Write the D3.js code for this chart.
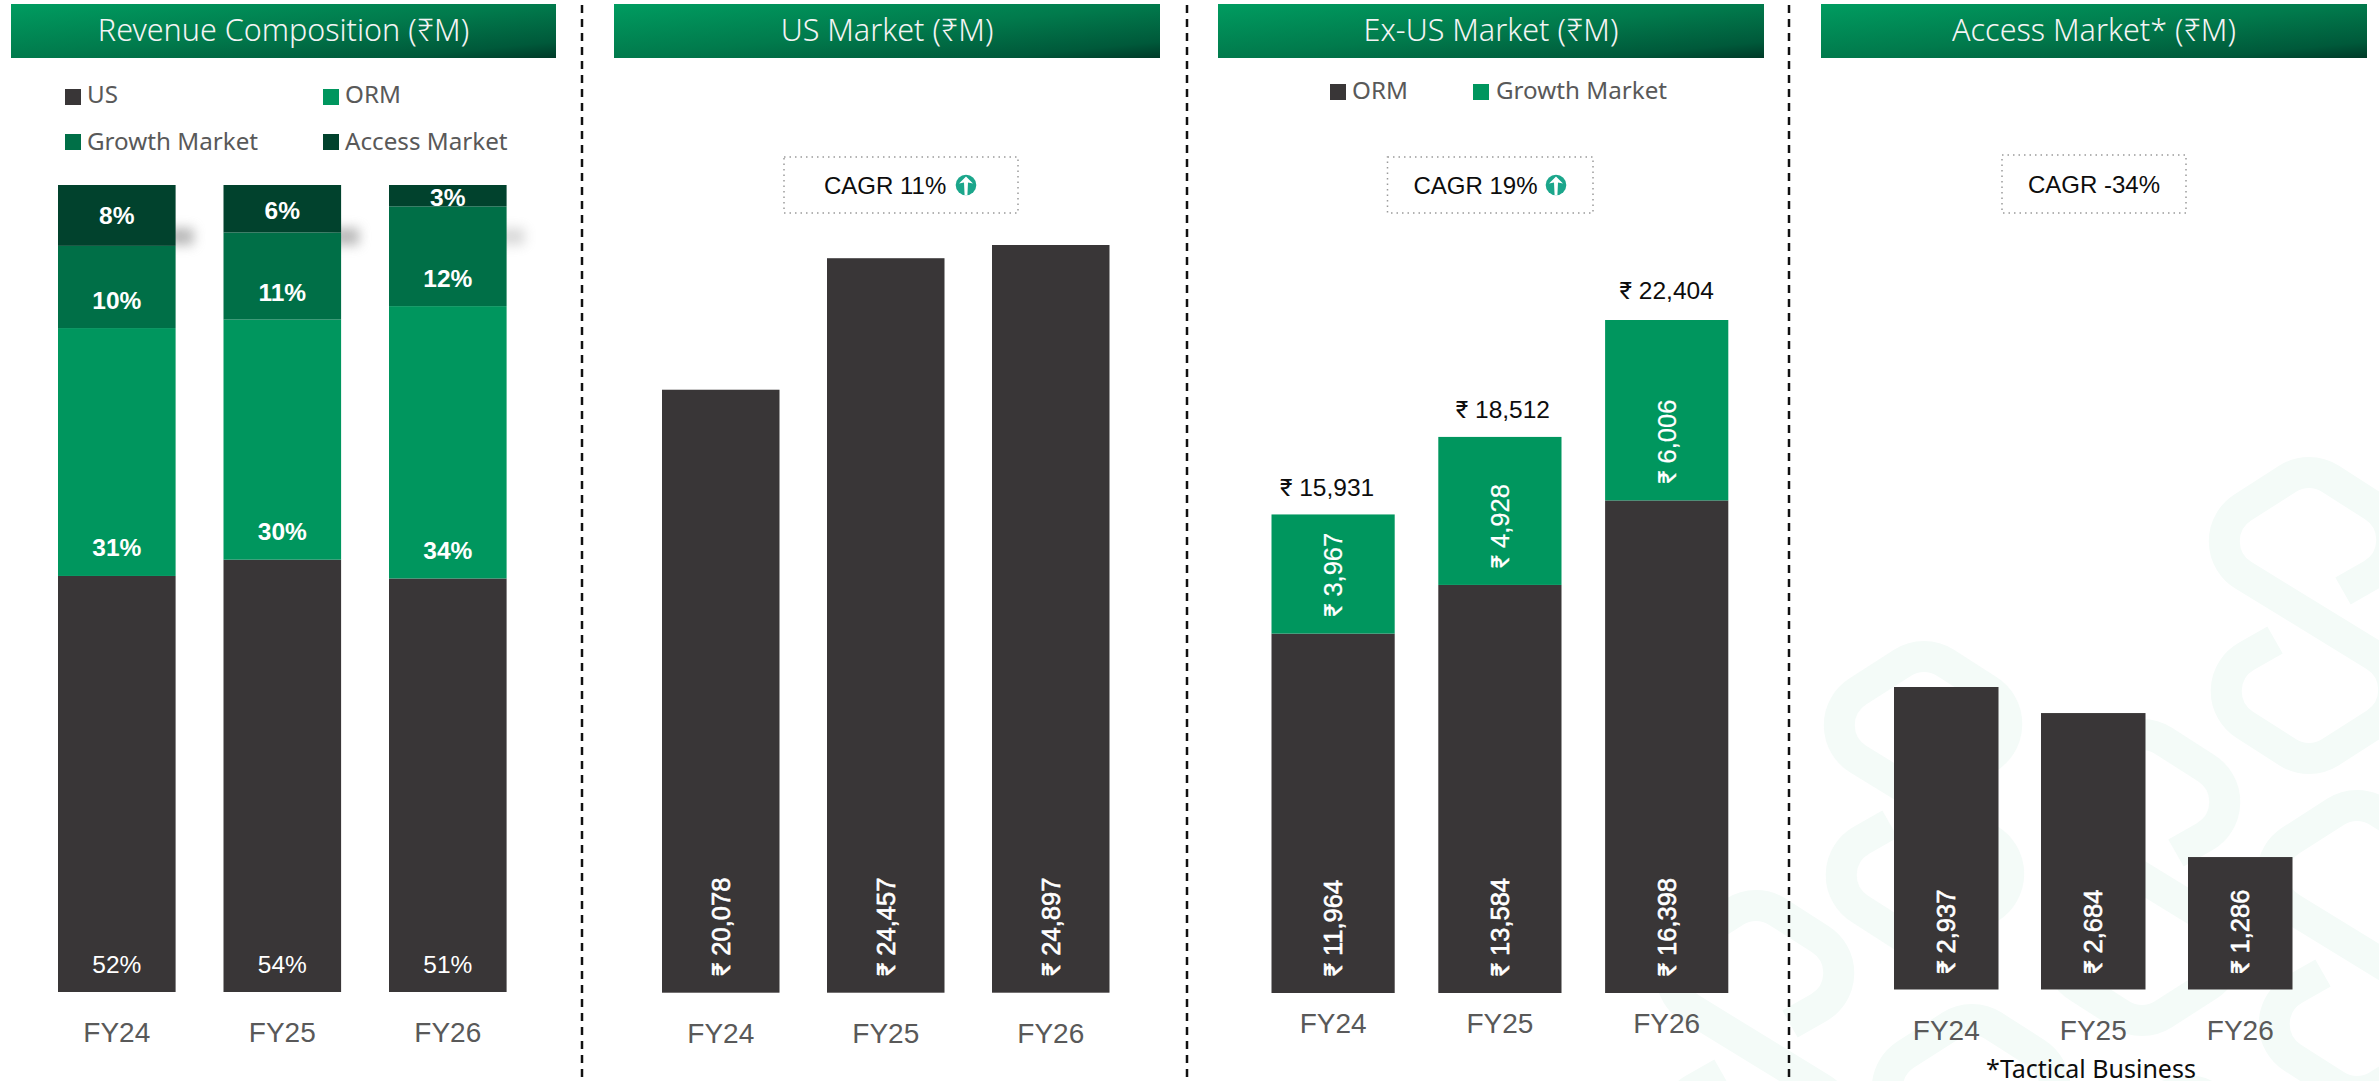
<!DOCTYPE html>
<html><head><meta charset="utf-8">
<script src="https://cdn.jsdelivr.net/npm/d3@7"></script>
<style>html,body{margin:0;padding:0;background:#fff;overflow:hidden}svg{display:block}</style>
</head><body><svg id="c" width="2379" height="1081"></svg>
<script>
// ---------- data ----------
const years = ["FY24", "FY25", "FY26"];
const usValues = [20078, 24457, 24897];
const ormValues = [11964, 13584, 16398];
const growthValues = [3967, 4928, 6006];
const accessValues = [2937, 2684, 1286];
const exUsTotals = [15931, 18512, 22404];
const shareLabels = {
  US: ["52%", "54%", "51%"],
  ORM: ["31%", "30%", "34%"],
  Growth: ["10%", "11%", "12%"],
  Access: ["8%", "6%", "3%"]
};
const panelTitles = ["Revenue Composition (₹M)", "US Market (₹M)", "Ex-US Market (₹M)", "Access Market* (₹M)"];
const legendAll = ["US", "ORM", "Growth Market", "Access Market"];
const legendExUs = ["ORM", "Growth Market"];
const cagrLabels = ["CAGR 11%", "CAGR 19%", "CAGR -34%"];
const footnote = "*Tactical Business";

// ---------- style ----------
const C = {us:"#393637", orm:"#00965e", growth:"#006f47", access:"#01422d", axis:"#595959", ink:"#0d0d0d", water:"#f4fbf8", teal:"#1ba68b"};
const svg = d3.select("#c");
const defs = svg.append("defs");
const grad = defs.append("linearGradient").attr("id","hdr").attr("x1",0).attr("y1",0).attr("x2",1).attr("y2",1);
[[0,"#009c60"],[0.5,"#017a4c"],[0.85,"#00593a"],[1,"#003a28"]].forEach(s=>grad.append("stop").attr("offset",s[0]).attr("stop-color",s[1]));
defs.append("filter").attr("id","blur").attr("x","-100%").attr("y","-100%").attr("width","300%").attr("height","300%")
  .append("feGaussianBlur").attr("stdDeviation",6);

const fmt = d3.format(",");
const TITLE_FONT = "'Noto Sans', sans-serif", NUM_FONT = "Roboto, sans-serif", ARIAL = "'Liberation Sans', sans-serif";
function rupeeText(sel,v,glyphSize){
  sel.append("tspan").style("font-family",NUM_FONT).style("font-size",glyphSize+"px").text("₹");
  sel.append("tspan").text(" "+fmt(v));
}

// ---------- watermark ----------
function rounded(points, r){
  const p = d3.path();
  p.moveTo(points[0][0], points[0][1]);
  for(let i=1;i<points.length-1;i++) p.arcTo(points[i][0],points[i][1],points[i+1][0],points[i+1][1],r);
  const l = points[points.length-1]; p.lineTo(l[0],l[1]);
  return p.toString();
}
const waterAnchors = [[2309,542],[1924,726],[2142,804],[2357,875],[1756,975],[1972,1089],[2187,1160]];
const gw = svg.append("g");
waterAnchors.forEach(([x,y])=>{
  const H=120,V=77,D=147;
  gw.append("path").attr("fill","none").attr("stroke",C.water).attr("stroke-width",31)
    .attr("d",rounded([[x+34,y+49],[x+H,y],[x,y-V],[x-H,y],[x+H,y+D],[x,y+D+V],[x-H,y+D],[x-34,y+D-49]],40));
});

// ---------- helpers ----------
function band(left,width,step){
  const p = 1-width/step;
  return d3.scaleBand().domain(years).range([left-step*p/2,left-step*p/2+3*step]).paddingInner(p).paddingOuter(p/2);
}
function xAxis(x,base){
  const g = svg.append("g").attr("transform",`translate(0,${base})`).call(d3.axisBottom(x).tickSize(0).tickPadding(0));
  g.select(".domain").remove();
  g.selectAll("text").attr("dy",0).attr("y",0).attr("fill",C.axis).style("font-family",ARIAL).style("font-size","28px");
}
function header(i,x0,x1){
  svg.append("rect").attr("x",x0).attr("y",4).attr("width",x1-x0).attr("height",54).attr("fill","url(#hdr)");
  svg.append("text").attr("x",(x0+x1)/2).attr("y",41).attr("text-anchor","middle").attr("fill","#f4f4f4")
    .style("font-family",TITLE_FONT).style("font-size","30.5px").style("font-weight",300).text(panelTitles[i]);
}
function legendItem(label,color,x,squareY,textX,base){
  svg.append("rect").attr("x",x).attr("y",squareY).attr("width",16).attr("height",16).attr("fill",color);
  svg.append("text").attr("x",textX).attr("y",base).attr("fill",C.axis)
    .style("font-family",TITLE_FONT).style("font-size","24.2px").text(label);
}
function upIcon(cx,cy){
  const g = svg.append("g").attr("transform",`translate(${cx},${cy})`);
  g.append("circle").attr("r",10.3).attr("fill",C.teal);
  g.append("path").attr("fill","#fff").attr("d","M0,-8.5L7,-1.5L2,-2.5L1.4,10.3L-1.4,10.3L-2,-2.5L-7,-1.5Z");
}
function cagrBox(x0,x1,y0,y1,label,textX,base){
  svg.append("rect").attr("x",x0).attr("y",y0).attr("width",x1-x0).attr("height",y1-y0).attr("fill","#fff")
    .attr("stroke","#9a9a9a").attr("stroke-width",1.5).attr("stroke-dasharray","1.5 4");
  svg.append("text").attr("x",textX).attr("y",base).attr("fill",C.ink)
    .style("font-family",ARIAL).style("font-size","24px").text(label);
}
function vertLabel(xc,yStart,value,strokeW){
  const t = svg.append("text").attr("transform",`translate(${xc+9},${yStart}) rotate(-90)`).attr("fill","#fff")
    .attr("stroke","#fff").attr("stroke-width",strokeW)
    .style("font-family",ARIAL).style("font-size","25.5px");
  rupeeText(t,value,25);
}
function bar(x,yTop,yBottom,w,fill){
  svg.append("rect").attr("x",x).attr("y",yTop).attr("width",w).attr("height",yBottom-yTop).attr("fill",fill);
}

// ---------- separators ----------
[582,1187,1789].forEach(x=>svg.append("line").attr("x1",x).attr("x2",x).attr("y1",5).attr("y2",1081)
  .attr("stroke","#111").attr("stroke-width",2.5).attr("stroke-dasharray","8 6"));

// ---------- panel 1: composition ----------
header(0,11,556);
[[C.us,65,89,87,103],[C.orm,323,89,345,103],[C.growth,65,134,87,150],[C.access,323,134,345,150]]
  .forEach((d,i)=>legendItem(legendAll[i],d[0],d[1],d[2],d[3],d[4]));
const x1 = band(58,117.6,165.5);
const y1 = d3.scaleLinear().domain([0,1]).range([992,185]);
const stackKeys = ["US","ORM","Growth","Access"];
const rows = years.map((y,i)=>({year:y,US:usValues[i],ORM:ormValues[i],Growth:growthValues[i],Access:accessValues[i]}));
const stacked = d3.stack().keys(stackKeys).offset(d3.stackOffsetExpand)(rows);
const stackColors = {US:C.us,ORM:C.orm,Growth:C.growth,Access:C.access};
// soft shadow smudges
[.62,.62,.32].forEach((o,i)=>{
  const xr = x1(years[i])+x1.bandwidth();
  svg.append("rect").attr("x",xr-8).attr("y",228).attr("width",26).attr("height",17).attr("fill","#8c8c8c")
    .attr("opacity",o).attr("filter","url(#blur)");
});
stacked.forEach(s=>s.forEach((d,i)=>{
  bar(x1(years[i]),y1(d[1]),y1(d[0]),x1.bandwidth(),stackColors[s.key]);
}));
const labelY = {US:[973,973,973],ORM:[556,540,559],Growth:[309,301,287],Access:[224,219,206]};
stackKeys.forEach(k=>years.forEach((y,i)=>{
  svg.append("text").attr("x",x1(y)+x1.bandwidth()/2).attr("y",labelY[k][i]).attr("text-anchor","middle").attr("fill","#fff")
    .style("font-family",ARIAL).style("font-size","24.5px").style("font-weight",k==="US"?400:700).text(shareLabels[k][i]);
}));
xAxis(x1,1042);

// ---------- panel 2: US ----------
header(1,614,1160);
const x2 = band(662,117.5,165);
const y2 = d3.scaleLinear().domain([0,d3.max(usValues)]).range([992.7,245]);
cagrBox(784,1018,157,213,cagrLabels[0],824,194);
upIcon(966,185);
years.forEach((y,i)=>{
  bar(x2(y),y2(usValues[i]),y2(0),x2.bandwidth(),C.us);
  vertLabel(x2(y)+x2.bandwidth()/2,y2(0)-17,usValues[i],0.6);
});
xAxis(x2,1043);

// ---------- panel 3: Ex-US ----------
header(2,1218,1764);
legendItem(legendExUs[0],C.us,1330,84,1352,99);
legendItem(legendExUs[1],C.orm,1473,84,1496,99);
cagrBox(1387.5,1593,157,213,cagrLabels[1],1413.5,194);
upIcon(1556,185);
const x3 = band(1271.5,123.2,166.8);
const y3 = d3.scaleLinear().domain([0,d3.max(exUsTotals)]).range([993,320]);
const totalNudge = [[-6,-18.7],[3,-19],[0,-21]];
years.forEach((y,i)=>{
  const bx = x3(y), w = x3.bandwidth(), xc = bx+w/2;
  bar(bx,y3(ormValues[i]),y3(0),w,C.us);
  bar(bx,y3(exUsTotals[i]),y3(ormValues[i]),w,C.orm);
  vertLabel(xc,y3(0)-17,ormValues[i],0.6);
  vertLabel(xc,y3(ormValues[i])-17,growthValues[i],0.2);
  const t = svg.append("text").attr("x",xc+totalNudge[i][0]).attr("y",y3(exUsTotals[i])+totalNudge[i][1]).attr("text-anchor","middle").attr("fill",C.ink)
    .style("font-family",ARIAL).style("font-size","24.5px");
  rupeeText(t,exUsTotals[i],24);
});
xAxis(x3,1033);

// ---------- panel 4: Access ----------
header(3,1821,2367);
cagrBox(2002,2186,155,213,cagrLabels[2],2028,193);
const x4 = band(1894,104.5,147);
const y4 = d3.scaleLinear().domain([0,d3.max(accessValues)]).range([989.5,687]);
years.forEach((y,i)=>{
  bar(x4(y),y4(accessValues[i]),y4(0),x4.bandwidth(),C.us);
  vertLabel(x4(y)+x4.bandwidth()/2,y4(0)-16,accessValues[i],0.6);
});
xAxis(x4,1040);
svg.append("text").attr("x",2091).attr("y",1078).attr("text-anchor","middle").attr("fill",C.ink)
  .style("font-family",TITLE_FONT).style("font-size","25px").text(footnote);
</script></body></html>
